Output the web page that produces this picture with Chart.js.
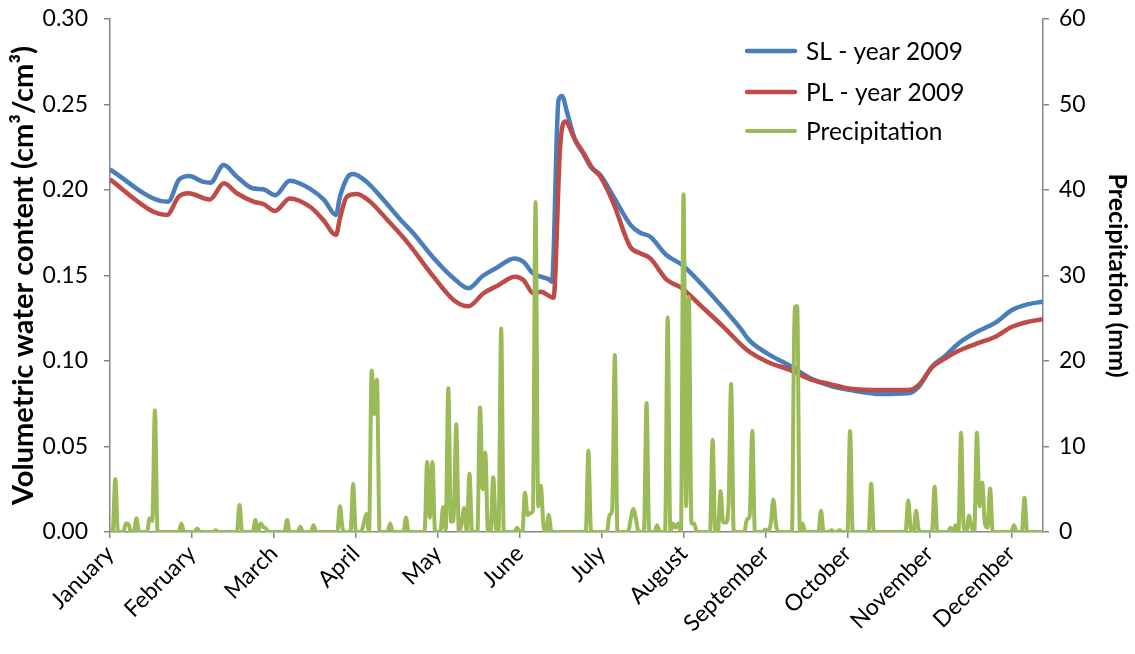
<!DOCTYPE html>
<html>
<head>
<meta charset="utf-8">
<title>Volumetric water content 2009</title>
<script src="https://cdn.jsdelivr.net/npm/chart.js@4.4.0/dist/chart.umd.min.js"></script>
<style>
    html, body { margin: 0; padding: 0; background: #fff; }
    #box { width: 1135px; height: 654px; position: relative; }
</style>
</head>
<body>
<div id="box"><canvas id="waterChart"></canvas></div>
<script>
// Eixo x: um ponto por dia, rótulo de mês a cada 31 posições
const monthLabels = ['January', 'February', 'March', 'April', 'May', 'June',
    'July', 'August', 'September', 'October', 'November', 'December'];
const monthStartDays = [0, 31, 62, 93, 124, 155, 186, 217, 248, 279, 310, 341];
const lastDay = 353;

const leftTickValues = [0, 0.05, 0.10, 0.15, 0.20, 0.25, 0.30];
const rightTickValues = [0, 10, 20, 30, 40, 50, 60];

// SL - year 2009 (cm3/cm3)
const slDays = [0, 19, 22, 26, 30, 35, 38, 43, 48, 54, 58, 62.5, 68, 76, 81, 85.5, 87, 90, 92, 97,
    103.5, 110, 115, 122, 130, 135.6, 141, 146, 153, 156.4, 160, 166, 167.2, 169.7, 171, 173, 176,
    179, 182, 185.5, 190.5, 197, 200.6, 204.4, 210.5, 216.5, 225, 232, 238.5, 242, 248.6, 257.4,
    265, 272.5, 280, 292, 302, 306, 311, 316, 321, 327.4, 335, 341.3, 347.6, 353];
const slValues = [0.212, 0.1936, 0.1932, 0.2058, 0.2082, 0.2049, 0.2043, 0.2146, 0.2078, 0.201, 0.2004, 0.197,
    0.2054, 0.2004, 0.1942, 0.1854, 0.1961, 0.2078, 0.2094, 0.2049,
    0.1942, 0.1825, 0.1743, 0.161, 0.1484, 0.1425, 0.1497, 0.1542, 0.16, 0.158, 0.1513, 0.1478, 0.1464,
    0.2526, 0.255, 0.2449, 0.2292, 0.2215, 0.2133, 0.2088, 0.1961, 0.1795, 0.175, 0.1727, 0.162, 0.1561,
    0.143, 0.131, 0.1191, 0.1119, 0.1045, 0.0971, 0.0899, 0.0854, 0.083, 0.0807, 0.0811, 0.085, 0.0967,
    0.1029, 0.1103, 0.1166, 0.1224, 0.1298, 0.1333, 0.1347];

// PL - year 2009 (cm3/cm3)
const plDays = [0, 16.4, 21.5, 26, 29.6, 37.8, 43.1, 48, 54.3, 58, 62.5, 68, 75.7, 80.7, 85.5, 87, 89.6,
    93.4, 98.4, 104.7, 112.3, 122.4, 130, 135.6, 141.3, 146.4, 153.3, 156.4, 160.2, 163, 167.8, 170.3,
    172.2, 176, 179.2, 182.3, 185.5, 190.5, 196.8, 200.6, 204.4, 210.7, 216, 224.6, 232.1, 241, 248.6,
    257.4, 265, 272.5, 280, 292, 302.2, 306, 311, 316, 321.1, 327.4, 335, 341.3, 347.6, 353];
const plValues = [0.2062, 0.1873, 0.1854, 0.1961, 0.1981, 0.1945, 0.2039, 0.1981, 0.1932, 0.1918, 0.1877,
    0.1951, 0.1902, 0.1825, 0.1737, 0.1834, 0.1961, 0.1977, 0.1932, 0.1829, 0.1698, 0.1493, 0.1357,
    0.132, 0.1396, 0.1439, 0.1493, 0.1474, 0.1396, 0.1405, 0.137, 0.2253, 0.24, 0.2292, 0.2215, 0.2133,
    0.2078, 0.1922, 0.1668, 0.163, 0.16, 0.1474, 0.143, 0.1308, 0.12, 0.1064, 0.0996, 0.0947, 0.0893,
    0.0865, 0.0838, 0.083, 0.083, 0.086, 0.0963, 0.1016, 0.106, 0.1099, 0.1142, 0.12, 0.123, 0.1244];

// Precipitation (mm), only the days with rain
const rainDays = [2, 6, 7, 10, 15, 16, 17, 27, 33, 40, 49, 55, 57, 58, 59, 67, 72, 77, 87, 88, 92, 96, 97,
    99, 100, 101, 106, 112, 120, 121, 122, 126, 127, 128, 129, 130, 131, 133, 134, 136, 140, 141, 142,
    145, 146, 148, 154, 157, 158, 159, 160, 161, 162, 163, 164, 166, 181, 189, 190, 191, 197, 198, 199,
    203, 207, 211, 213, 214, 215, 217, 218, 219, 220, 221, 228, 231, 232, 233, 234, 235, 241, 242, 243,
    248, 250, 251, 252, 259, 260, 262, 269, 273, 276, 280, 288, 302, 303, 305, 306, 312, 318, 320, 322,
    323, 325, 326, 328, 329, 330, 331, 332, 333, 342, 346];
const rainValues = [6.2, 1.0, 0.9, 1.6, 1.6, 1.3, 14.2, 1.0, 0.4, 0.2, 3.2, 1.4, 1.0, 0.6, 0.4, 1.4, 0.6, 0.8,
    3.0, 0.4, 5.6, 1.0, 2.1, 18.9, 13.8, 17.8, 1.0, 1.7, 8.2, 1.7, 8.2, 2.9, 0.3, 16.8, 1.2, 1.3, 12.6,
    1.0, 2.8, 6.8, 14.6, 5.0, 9.3, 6.4, 0.5, 23.8, 0.5, 4.6, 2.0, 2.2, 2.5, 38.6, 3.0, 5.4, 0.8, 2.0,
    9.5, 2.0, 2.5, 20.7, 1.5, 2.7, 1.5, 15.1, 0.8, 25.1, 1.0, 0.5, 1.0, 39.5, 3.0, 27.5, 1.0, 1.0, 10.8,
    4.8, 1.1, 1.1, 3.0, 17.3, 1.5, 1.8, 11.8, 0.3, 1.0, 3.8, 0.8, 26.3, 26.4, 1.0, 2.5, 0.2, 0.2, 11.8,
    5.65, 3.7, 0.3, 2.5, 0.2, 5.3, 0.5, 0.8, 11.6, 0.5, 1.9, 0.5, 11.6, 3.0, 5.8, 1.0, 0.5, 5.1, 0.8, 4.0];

// Série diária de chuva: zero nos dias sem registro
const rainSeries = [];
for (let d = 0; d <= lastDay; d++) {
    rainSeries.push({ x: d, y: 0 });
}
rainDays.forEach((d, i) => { rainSeries[d].y = rainValues[i]; });

const slSeries = slDays.map((d, i) => ({ x: d, y: slValues[i] }));
const plSeries = plDays.map((d, i) => ({ x: d, y: plValues[i] }));

Chart.defaults.font.family = 'Lato';
Chart.defaults.font.size = 23;
Chart.defaults.color = '#000';

const axisGrey = '#868686';

// Legenda desenhada dentro da área do gráfico
const insideLegend = {
    id: 'insideLegend',
    afterDraw(chart) {
        const ctx = chart.ctx;
        const rowY = [51, 92, 131];
        ctx.save();
        ctx.font = '24.5px Lato';
        ctx.textBaseline = 'middle';
        ctx.fillStyle = '#000';
        chart.data.datasets.forEach((ds, i) => {
            ctx.strokeStyle = ds.borderColor;
            ctx.lineWidth = ds.borderWidth;
            ctx.lineCap = 'round';
            ctx.beginPath();
            ctx.moveTo(747, rowY[i]);
            ctx.lineTo(795, rowY[i]);
            ctx.stroke();
            ctx.fillText(ds.label, 806, rowY[i] + 1);
        });
        ctx.restore();
    }
};

// Sem folga extra acima/abaixo dos eixos y: o topo fica fixo pelo padding do layout
function fixYAxis(width) {
    return scale => {
        scale.width = width;
        scale.paddingTop = 0;
        scale.paddingBottom = 0;
    };
}

const waterCtx = document.getElementById('waterChart').getContext('2d');
const waterChart = new Chart(waterCtx, {
    type: 'line',
    data: {
        datasets: [{
            label: 'SL - year 2009',
            data: slSeries,
            yAxisID: 'y',
            borderColor: '#4a7ebb',
            borderWidth: 4.5,
            pointRadius: 0,
            cubicInterpolationMode: 'monotone',
            order: 2
        }, {
            label: 'PL - year 2009',
            data: plSeries,
            yAxisID: 'y',
            borderColor: '#be4b48',
            borderWidth: 4.5,
            pointRadius: 0,
            cubicInterpolationMode: 'monotone',
            order: 1
        }, {
            label: 'Precipitation',
            data: rainSeries,
            yAxisID: 'y1',
            borderColor: '#9bbb59',
            borderWidth: 4,
            pointRadius: 0,
            cubicInterpolationMode: 'monotone',
            order: 0
        }]
    },
    options: {
        responsive: true,
        maintainAspectRatio: false,
        animation: false,
        layout: { padding: { top: 19 } },
        plugins: {
            legend: { display: false },
            tooltip: { enabled: false }
        },
        scales: {
            x: {
                type: 'linear',
                min: 0,
                max: lastDay,
                afterBuildTicks: scale => {
                    scale.ticks = monthStartDays.map(v => ({ value: v }));
                },
                afterFit: scale => { scale.height = 122; },
                ticks: {
                    autoSkip: false,
                    minRotation: 45,
                    maxRotation: 45,
                    padding: 2,
                    callback: value => monthLabels[monthStartDays.indexOf(value)]
                },
                grid: { drawOnChartArea: false, tickLength: 6, color: axisGrey, lineWidth: 1.5 },
                border: { color: axisGrey, width: 1.5 }
            },
            y: {
                position: 'left',
                min: 0,
                max: 0.3,
                afterBuildTicks: scale => {
                    scale.ticks = leftTickValues.map(v => ({ value: v }));
                },
                afterFit: fixYAxis(110),
                ticks: {
                    padding: 16,
                    callback: value => value.toFixed(2)
                },
                title: {
                    display: true,
                    text: 'Volumetric water content (cm³/cm³)',
                    font: { size: 29, weight: 'bold' },
                    padding: { top: 6, bottom: 0 }
                },
                grid: { drawOnChartArea: false, tickLength: 6, color: axisGrey, lineWidth: 1.5 },
                border: { color: axisGrey, width: 1.5 }
            },
            y1: {
                position: 'right',
                min: 0,
                max: 60,
                afterBuildTicks: scale => {
                    scale.ticks = rightTickValues.map(v => ({ value: v }));
                },
                afterFit: fixYAxis(92),
                ticks: { padding: 10 },
                title: {
                    display: true,
                    text: 'Precipitation (mm)',
                    font: { size: 25, weight: 'bold' },
                    padding: { top: 3, bottom: 0 }
                },
                grid: { drawOnChartArea: false, tickLength: 6, color: axisGrey, lineWidth: 1.5 },
                border: { color: axisGrey, width: 1.5 }
            }
        }
    },
    plugins: [insideLegend]
});
</script>
</body>
</html>
